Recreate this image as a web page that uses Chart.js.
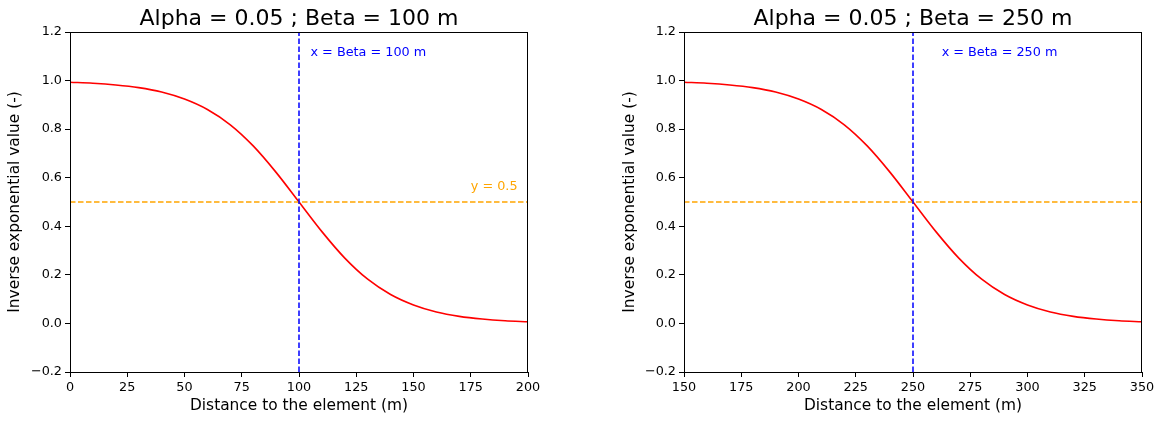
<!DOCTYPE html>
<html>
<head>
<meta charset="utf-8">
<script src="https://cdn.jsdelivr.net/npm/chart.js@4.4.1/dist/chart.umd.min.js"></script>
<style>
body{margin:0;background:#fff;width:1158px;height:421px;overflow:hidden;position:relative}
canvas{position:absolute;top:0}
#left{left:0}
#right{left:579px}
</style>
</head>
<body>
<canvas id="left" width="579" height="421"></canvas>
<canvas id="right" width="579" height="421"></canvas>
<script>
// values, every 10 m
const distLeft=[0,10,20,30,40,50,60,70,80,90,100,110,120,130,140,150,160,170,180,190,200];
const valueLeft=[0.993,0.989,0.982,0.971,0.953,0.924,0.881,0.818,0.731,0.622,0.5,0.378,0.269,0.182,0.119,0.076,0.047,0.029,0.018,0.011,0.007];
const distRight=[150,160,170,180,190,200,210,220,230,240,250,260,270,280,290,300,310,320,330,340,350];
const valueRight=[0.993,0.989,0.982,0.971,0.953,0.924,0.881,0.818,0.731,0.622,0.5,0.378,0.269,0.182,0.119,0.076,0.047,0.029,0.018,0.011,0.007];
const betaLeft=100;
const betaRight=250;
const xRangeLeft=[0,200];
const xRangeRight=[150,350];
const yRange=[-0.2,1.2];
const halfLine=0.5;

const FONT='"DejaVu Sans", sans-serif';

const framePlugin={
    id:'frame',
    afterDraw(chart){
        const c=chart.ctx, a=chart.chartArea;
        c.save();
        c.strokeStyle='#000';
        c.lineWidth=1;
        c.strokeRect(Math.round(a.left)+0.5,Math.round(a.top)+0.5,Math.round(a.right-a.left)-1,Math.round(a.bottom-a.top));
        c.fillStyle='#000';
        c.font='22px '+FONT;
        c.textAlign='center';
        c.textBaseline='alphabetic';
        c.fillText(chart.options.plugins.frame.title,(a.left+a.right)/2,25);
        c.restore();
    }
}

const notePlugin={
    id:'notes',
    afterDatasetsDraw(chart){
        const c=chart.ctx;
        const xs=chart.scales.x, ys=chart.scales.y;
        c.save();
        c.font='12.8px '+FONT;
        c.textAlign='left';
        c.textBaseline='alphabetic';
        chart.options.plugins.notes.items.forEach(n=>{
            c.fillStyle=n.color;
            c.fillText(n.text,xs.getPixelForValue(n.x),ys.getPixelForValue(n.y));
        })
        c.restore();
    }
}

function yLabel(v){
    if(Math.abs(v)<1e-9) v=0;
    return v.toFixed(1).replace('-','\u2212');
}

function makeChart(id,dist,values,beta,xRange,title,notes,padLeft,padRight,yWidth){
    const curve=dist.map((d,i)=>({x:d,y:values[i]}));
    return new Chart(id,{
        type:'scatter',
        data:{
            datasets:[
                {data:[{x:beta,y:yRange[0]},{x:beta,y:yRange[1]}],showLine:true,borderColor:'#0000ff',borderWidth:1.5,borderDash:[5.5,2.5],pointRadius:0},
                {data:[{x:xRange[0],y:halfLine},{x:xRange[1],y:halfLine}],showLine:true,borderColor:'#ffa500',borderWidth:1.5,borderDash:[5.5,2.5],pointRadius:0},
                {data:curve,showLine:true,borderColor:'#ff0000',borderWidth:1.6,pointRadius:0,cubicInterpolationMode:'monotone'}
            ]
        },
        options:{
            responsive:false,
            animation:false,
            layout:{padding:{left:padLeft,right:padRight,top:32,bottom:0}},
            plugins:{
                legend:{display:false},
                tooltip:{enabled:false},
                frame:{title:title},
                notes:{items:notes}
            },
            scales:{
                x:{
                    type:'linear',min:xRange[0],max:xRange[1],
                    grid:{drawOnChartArea:false,tickLength:5,color:'#000'},
                    border:{color:'#000'},
                    ticks:{stepSize:25,color:'#000',padding:3,font:{family:FONT,size:12.8},maxRotation:0},
                    title:{display:true,text:'Distance to the element (m)',color:'#000',font:{family:FONT,size:15.4},padding:{top:2,bottom:6}},
                    afterFit(s){s.height=49}
                },
                y:{
                    min:yRange[0],max:yRange[1],
                    grid:{drawOnChartArea:false,tickLength:5,color:'#000'},
                    border:{color:'#000'},
                    ticks:{stepSize:0.2,color:'#000',padding:3,font:{family:FONT,size:12.8},callback:yLabel},
                    title:{display:true,text:'Inverse exponential value (-)',color:'#000',font:{family:FONT,size:15.4},padding:{top:6,bottom:2}},
                    afterFit(s){s.width=yWidth}
                }
            }
        },
        plugins:[framePlugin,notePlugin]
    })
}

let leftChart=makeChart('left',distLeft,valueLeft,betaLeft,xRangeLeft,'Alpha = 0.05 ; Beta = 100 m',
    [{text:'x = Beta = 100 m',x:105,y:1.1,color:'#0000ff'},{text:'y = 0.5',x:175,y:0.55,color:'#ffa500'}],
    0,51,70);
let rightChart=makeChart('right',distRight,valueRight,betaRight,xRangeRight,'Alpha = 0.05 ; Beta = 250 m',
    [{text:'x = Beta = 250 m',x:262.5,y:1.1,color:'#0000ff'}],
    36,16,69);
</script>
</body>
</html>
